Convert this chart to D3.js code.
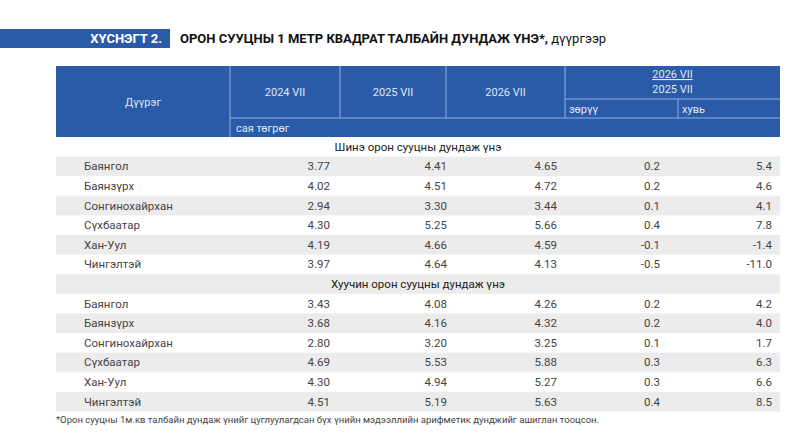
<!DOCTYPE html>
<html><head><meta charset="utf-8">
<script src="https://cdn.jsdelivr.net/npm/d3@7"></script>
<style>body{margin:0;background:#fff}text{font-family:Roboto,"Liberation Sans",sans-serif}</style>
</head><body><svg id="c" width="800" height="439"></svg>
<script>
const districts = ['Баянгол','Баянзүрх','Сонгинохайрхан','Сүхбаатар','Хан-Уул','Чингэлтэй'];
const sections = ['Шинэ орон сууцны дундаж үнэ','Хуучин орон сууцны дундаж үнэ'];
const newY2024 = [3.77,4.02,2.94,4.30,4.19,3.97];
const newY2025 = [4.41,4.51,3.30,5.25,4.66,4.64];
const newY2026 = [4.65,4.72,3.44,5.66,4.59,4.13];
const newDiff = [0.2,0.2,0.1,0.4,-0.1,-0.5];
const newPct = [5.4,4.6,4.1,7.8,-1.4,-11.0];
const oldY2024 = [3.43,3.68,2.80,4.69,4.30,4.51];
const oldY2025 = [4.08,4.16,3.20,5.53,4.94,5.19];
const oldY2026 = [4.26,4.32,3.25,5.88,5.27,5.63];
const oldDiff = [0.2,0.2,0.1,0.3,0.3,0.4];
const oldPct = [4.2,4.0,1.7,6.3,6.6,8.5];

const svg = d3.select('#c');
const blue = '#2a5ba8', grey = '#ececec', txt = '#444';
const L = 56, R = 780;
const colX = [L, 230, 340, 446, 565, 678, R];

// title
svg.append('rect').attr('x',0).attr('y',29).attr('width',170).attr('height',19).attr('fill',blue);
svg.append('text').attr('x',162).attr('y',43).attr('text-anchor','end').attr('fill','#fff')
  .attr('font-size',13).attr('font-weight','bold').text('ХҮСНЭГТ 2.');
svg.append('text').attr('x',180).attr('y',43).attr('fill','#111').attr('font-size',13).attr('font-weight','bold')
  .text('ОРОН СУУЦНЫ 1 МЕТР КВАДРАТ ТАЛБАЙН ДУНДАЖ ҮНЭ*,').append('tspan').attr('font-weight','normal').text(' дүүргээр');

// header
const hT = 66, hM = 118, hB = 137;
svg.append('rect').attr('x',L).attr('y',hT).attr('width',R-L).attr('height',hB-hT).attr('fill',blue);
const lines = svg.append('g').attr('stroke','#8fb0e0').attr('stroke-width',1);
colX.slice(1,5).forEach(x => lines.append('line').attr('x1',x).attr('x2',x).attr('y1',hT).attr('y2',hM));
lines.append('line').attr('x1',colX[5]).attr('x2',colX[5]).attr('y1',99).attr('y2',hM);
lines.append('line').attr('x1',colX[4]).attr('x2',R).attr('y1',99).attr('y2',99);
lines.append('line').attr('x1',colX[1]).attr('x2',R).attr('y1',hM).attr('y2',hM);
lines.append('line').attr('x1',colX[1]).attr('x2',colX[1]).attr('y1',hM).attr('y2',hB);
const ht = (x,y,s,a='middle',u=false) => svg.append('text').attr('x',x).attr('y',y).attr('text-anchor',a)
  .attr('fill','#dfe8f7').attr('font-size',11).attr('text-decoration',u?'underline':null).text(s);
ht((L+colX[1])/2,106,'Дүүрэг');
['2024 VII','2025 VII','2026 VII'].forEach((s,i)=>ht((colX[i+1]+colX[i+2])/2,96,s));
ht((colX[4]+R)/2,78,'2026 VII','middle',true);
ht((colX[4]+R)/2,93,'2025 VII');
ht(colX[4]+4,113,'зөрүү','start');
ht(colX[5]+4,113,'хувь','start');
ht(colX[1]+6,132,'сая төгрөг','start');

// body
const rowH = 19.6;
const y = d3.scaleLinear().domain([0,1]).range([hB, hB+rowH]);
const data = [
  [newY2024,newY2025,newY2026,newDiff,newPct],
  [oldY2024,oldY2025,oldY2026,oldDiff,oldPct]
];
const valX = [330, 447, 557, 660, 772];
let r = 0;
sections.forEach((sec,si) => {
  const rows = [{title:sec}].concat(districts.map((d,i)=>({name:d, vals:data[si].map(a=>a[i])})));
  rows.forEach(row => {
    const top = y(r);
    if (r%2===1) svg.append('rect').attr('x',L).attr('y',top).attr('width',R-L).attr('height',rowH).attr('fill',grey);
    const by = top + rowH/2 + 4;
    if (row.title) {
      svg.append('text').attr('x',(L+R)/2).attr('y',by).attr('text-anchor','middle').attr('fill','#222').attr('font-size',11.5).text(row.title);
    } else {
      svg.append('text').attr('x',84).attr('y',by).attr('fill',txt).attr('font-size',11.5).text(row.name);
      row.vals.forEach((v,j) => svg.append('text').attr('x',valX[j]).attr('y',by).attr('text-anchor','end')
        .attr('fill',txt).attr('font-size',11.5).text(v.toFixed(j<3?2:1)));
    }
    r++;
  });
});
svg.append('text').attr('x',56).attr('y',y(r)+12).attr('fill',txt).attr('font-size',9.5)
  .text('*Орон сууцны 1м.кв талбайн дундаж үнийг цуглуулагдсан бүх үнийн мэдээллийн арифметик дунджийг ашиглан тооцсон.');
</script></body></html>
